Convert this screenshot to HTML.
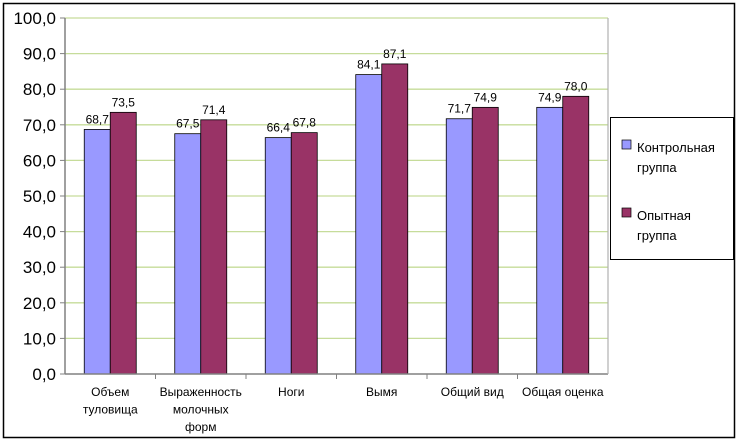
<!DOCTYPE html>
<html><head><meta charset="utf-8"><style>
body{margin:0;background:#fff;}
svg{display:block;font-family:"Liberation Sans",Arial,sans-serif;}
</style></head><body>
<svg id="c" width="739" height="443">
<rect x="3.5" y="3.5" width="731" height="434" fill="#fff" stroke="#000" stroke-width="1.5"/>
<g id="grid"></g><g id="bars"></g><g id="axes"></g>
<g>
<rect x="610.5" y="117.5" width="123" height="142" fill="#fff" stroke="#000"/>
<rect x="622" y="140" width="9" height="9" fill="#9999ff" stroke="#000" stroke-width="0.7"/>
<text x="637" y="152" font-size="13">Контрольная</text>
<text x="637" y="172" font-size="13">группа</text>
<rect x="622" y="208" width="9" height="9" fill="#993366" stroke="#000" stroke-width="0.7"/>
<text x="637" y="220" font-size="13">Опытная</text>
<text x="637" y="240" font-size="13">группа</text>
</g>
</svg>
<script>
const categories=[["Объем","туловища"],["Выраженность","молочных","форм"],["Ноги"],["Вымя"],["Общий вид"],["Общая оценка"]];
const control=[68.7,67.5,66.4,84.1,71.7,74.9];
const experimental=[73.5,71.4,67.8,87.1,74.9,78.0];
const ticks=[0,10,20,30,40,50,60,70,80,90,100];
const NS="http://www.w3.org/2000/svg";
const L=65,R=608,T=18,B=374;
const y=v=>B-(v/100)*(B-T);
const cw=(R-L)/categories.length;
function mk(tag,a,parent,txt){const e=document.createElementNS(NS,tag);for(const k in a)e.setAttribute(k,a[k]);if(txt!==undefined)e.textContent=txt;document.getElementById(parent).appendChild(e);return e;}
ticks.forEach(t=>{
 if(t>0){const g=mk('line',{x1:L,x2:R,y1:y(t),y2:y(t),stroke:'#c6dc9a','stroke-width':1.3},'grid');
 
 }
 const tk=mk('line',{x1:L-5,x2:L,y1:y(t),y2:y(t),stroke:'#808080'},'axes');
 
 
 const lb=mk('text',{x:L-9,y:y(t)+6,'font-size':17,'text-anchor':'end'},'axes',t.toFixed(1).replace('.',','));
 
 
});
const ax=mk('line',{x1:L,x2:L,y1:T,y2:B,stroke:'#808080','stroke-width':1.5},'axes');


const xa=mk('line',{x1:L,x2:R,y1:B,y2:B,stroke:'#808080','stroke-width':1.5},'axes');


const ra=mk('line',{x1:R,x2:R,y1:T,y2:B,stroke:'#b0b0b0','stroke-width':1.2},'axes');


const bw=26;
categories.forEach((c,i)=>{
 const cx=L+cw*(i+0.5);
 [[control,'#9999ff',cx-bw,'control'],[experimental,'#993366',cx,'experimental']].forEach(([arr,col,x0,nm])=>{
  const v=arr[i];
  const r=mk('rect',{x:x0,y:y(v),width:bw,height:B-y(v),fill:col,stroke:'#000','stroke-width':0.8},'bars');
  
  
  const t=mk('text',{x:x0+bw/2,y:y(v)-6,'font-size':12,'text-anchor':'middle'},'bars',v.toFixed(1).replace('.',','));
  
  
 });
 if(i>0){const tk=mk('line',{x1:L+cw*i,x2:L+cw*i,y1:B,y2:B+5,stroke:'#808080'},'axes');
 
 }
 c.forEach((ln,j)=>{
  const t=mk('text',{x:cx,y:396+j*17.5,'font-size':12,'text-anchor':'middle'},'axes',ln);
  
  
 });
});
</script>
</body></html>
